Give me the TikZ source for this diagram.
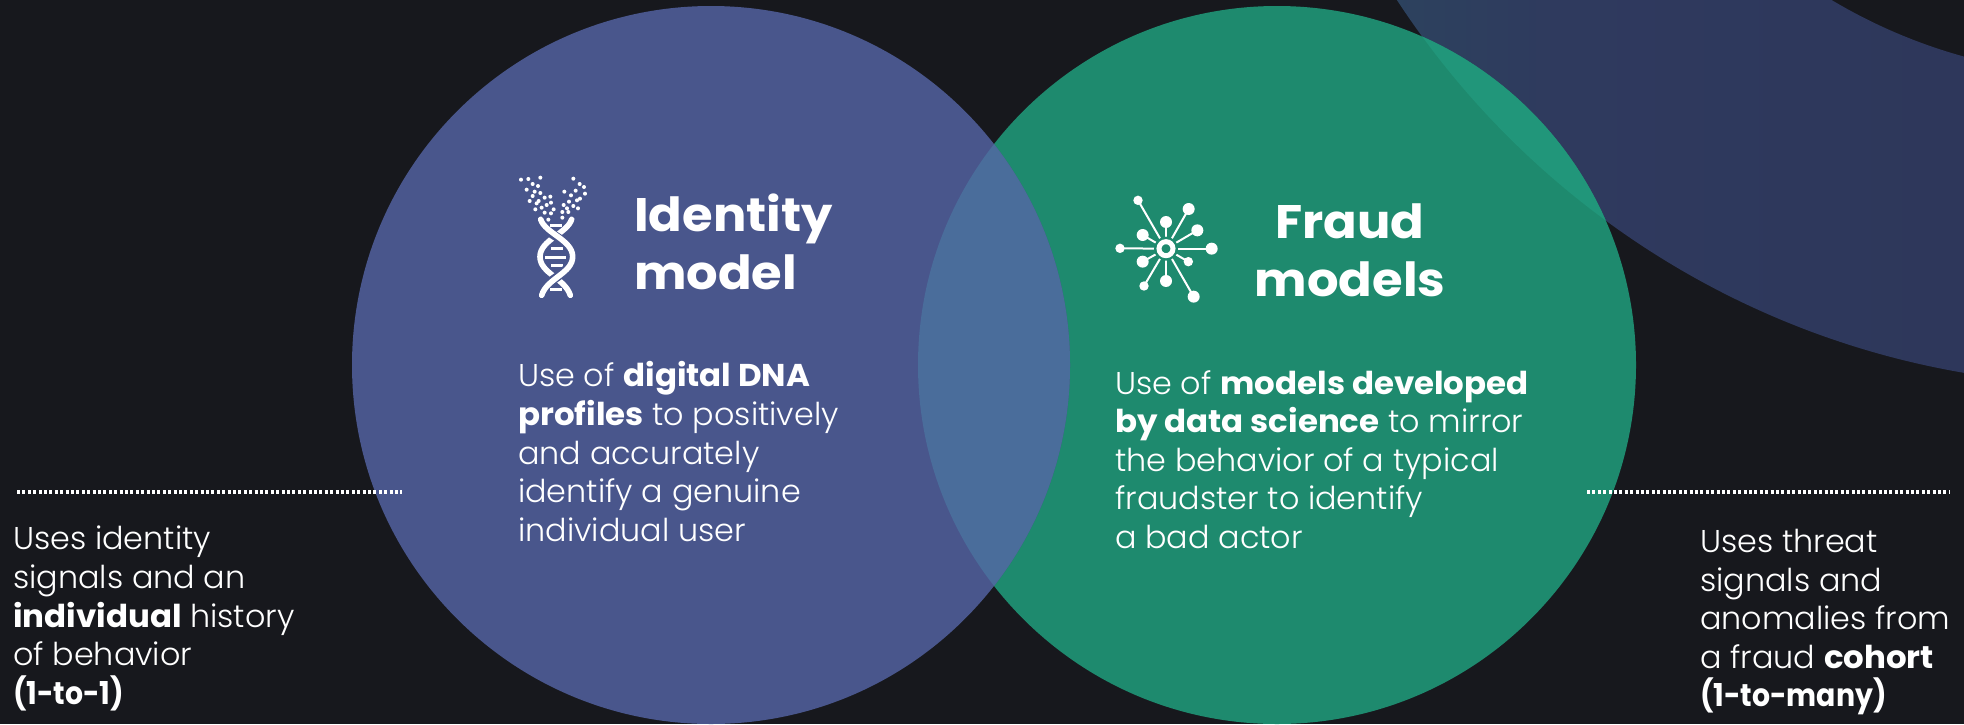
\documentclass[tikz,border=0pt]{standalone}
\usepackage{fontspec}
\setmainfont{Poppins}[UprightFont=* Light,BoldFont=* Bold,UprightFeatures={FakeStretch=1.01},BoldFeatures={FakeStretch=1.03}]
\newfontface\titleface{Poppins Bold}[FakeStretch=1.055]
\newfontface\narrowbold{Poppins Bold}[FakeStretch=0.9]
\usetikzlibrary{calc}
\definecolor{bg}{HTML}{17181D}
\definecolor{blueC}{HTML}{49568C}
\definecolor{greenC}{HTML}{1E8A6E}
\definecolor{overlapC}{HTML}{4A6D9B}
\definecolor{lightgreenC}{HTML}{21967A}
\pgfdeclarehorizontalshading{ringsh}{100bp}{
 rgb(0bp)=(0.15,0.33,0.40);
 rgb(20bp)=(0.17,0.27,0.37);
 rgb(40bp)=(0.184,0.227,0.37);
 rgb(100bp)=(0.176,0.208,0.345)}
\tikzset{
 body/.style={anchor=north west,inner sep=0pt,text=white,align=left,font=\fontsize{31.5}{38.6}\selectfont},
 titleL/.style={anchor=north west,inner sep=0pt,text=white,align=left,font=\fontsize{47}{57.5}\selectfont\titleface},
 titleC/.style={anchor=north,inner sep=0pt,text=white,align=center,font=\fontsize{47}{57.5}\selectfont\titleface},
 dotline/.style={white,line width=3.2pt,dash pattern=on 3pt off 2.4pt},
 strand/.style={white,line width=5.6pt,line cap=round},
 gapstrand/.style={blueC,line width=9pt},
 rung/.style={white,line width=3pt},
 spoke/.style={white,line width=2pt}
}
\begin{document}
\begin{tikzpicture}[x=1pt,y=-1pt]
\useasboundingbox (0,0) rectangle (1964,724);
\fill[bg] (0,0) rectangle (1964,724);
% ring
\begin{scope}[even odd rule]
 \clip (2108,-464) circle (849) (2108,-464) circle (540);
 \shade[shading=ringsh] (1390,0) rectangle (1964,445);
\end{scope}
% circles
\fill[greenC] (1277,365) circle (359);
\begin{scope}[even odd rule]
 \clip (1277,365) circle (359);
 \clip (2108,-464) circle (849) (2108,-464) circle (540);
 \fill[lightgreenC] (900,0) rectangle (1700,400);
\end{scope}
\fill[blueC] (711,365) circle (359);
\begin{scope}
 \clip (1277,365) circle (359);
 \fill[overlapC] (711,365) circle (359);
\end{scope}
% dotted rules
\coordinate (l1) at (17,492); \coordinate (l2) at (402,492);
\coordinate (r1) at (1587,492); \coordinate (r2) at (1950,492);
\draw[dotline] (l1) -- (l2);
\draw[dotline] (r1) -- (r2);
% DNA icon
\begin{scope}[shift={(490,150)},x=.3333pt,y=-.3333pt]
 \foreach \a/\b in {93/89,115/87,151/83,128/102,144/108,110/119,134/125,151/129,128/138,164/143,181/140,146/153,119/153,183/158,140/160,170/165,155/173,136/178,191/178,164/188,183/190,175/209,250/86,269/102,282/111,257/122,223/125,243/136,285/131,270/146,261/151,237/155,221/165,250/168,231/175,264/175,217/186,235/186,217/203}
  \fill[white] (\a,\b) circle (2pt);
 \foreach \ya/\xa/\xb in {225/180/216,295/184/220,322/165/228,348/184/220,420/180/216}
  \draw[rung] (\xa,\ya) -- (\xb,\ya);
 \draw[strand] (245,208) .. controls (232,250) and (150,270) .. (150,320) .. controls (150,370) and (225,385) .. (241,436);
 \draw[gapstrand] (178,246) .. controls (200,262) and (248,285) .. (248,320) .. controls (248,355) and (200,380) .. (175,400);
 \draw[strand] (152,208) .. controls (165,250) and (248,270) .. (248,320) .. controls (248,370) and (170,385) .. (155,436);
\end{scope}
% Network icon
\begin{scope}[shift={(1090,170)},x=.3333pt,y=-.3333pt]
 \coordinate (hub) at (228,236);
 \foreach \a/\b/\r in {144/91/4.7,296/117/6,228/156/6,322/181/6,158/195/6,90/235/4.7,365/236/6,158/275/6,295/275/4.7,162/348/4.7,228/333/6,311/380/6}{
  \coordinate (sat) at (\a,\b);
  \draw[spoke] (hub) -- (sat);
  \fill[white] (sat) circle (\r pt);
 }
 \fill[greenC] (hub) circle (12pt);
 \draw[white,line width=5pt] (hub) circle (7pt);
\end{scope}
% titles
\node[titleL] (t1) at (634,194) {Identity\\model};
\node[titleC] (t2) at (1350,204) {Fraud\\models};
% bodies
\node[body] (b1) at (518,361.5) {Use of \textbf{digital DNA}\\\textbf{profiles} to positively\\and accurately\\identify a genuine\\individual user};
\node[body] (b2) at (1115,370) {Use of \textbf{models developed}\\\textbf{by data science} to mirror\\the behavior of a typical\\fraudster to identify\\a bad actor};
\node[body] (b3) at (13,526) {Uses identity\\signals and an\\\textbf{individual} history\\of behavior\\{\narrowbold (1-to-1)}};
\node[body] (b4) at (1700,529) {Uses threat\\signals and\\anomalies from\\a fraud \textbf{cohort}\\{\narrowbold (1-to-many)}};
\end{tikzpicture}
\end{document}
